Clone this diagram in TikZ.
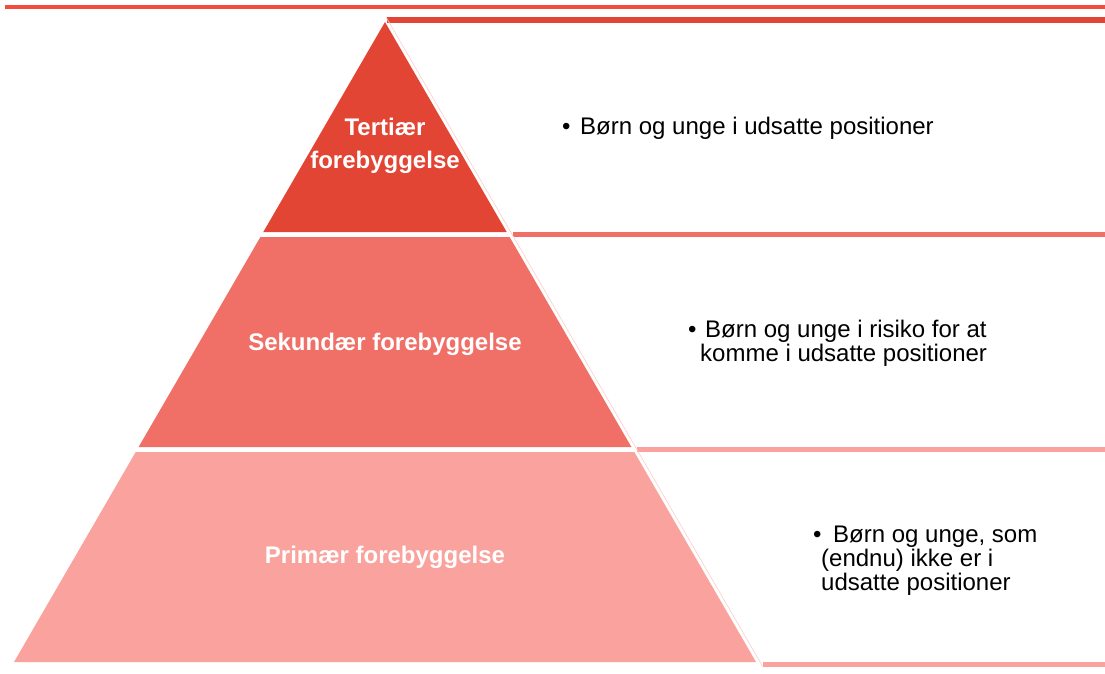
\documentclass[tikz,border=0pt]{standalone}
\usepackage{fontspec}
\setmainfont{Liberation Sans}
\definecolor{topline}{RGB}{244,76,60}
\definecolor{tierone}{RGB}{227,69,53}
\definecolor{tiertwo}{RGB}{240,112,104}
\definecolor{tierthree}{RGB}{250,162,157}
\definecolor{edgeline}{RGB}{252,205,200}
\begin{document}
\begin{tikzpicture}[
        x=1pt, y=-1pt,
        tier/.style = {draw=none},
        bar/.style = {line cap=butt},
        tierlabel/.style = {text=white, font=\bfseries\fontsize{24}{33}\selectfont, align=center, inner sep=0pt},
        listtext/.style = {text=black, font=\fontsize{24}{24}\selectfont, align=left, inner sep=0pt, anchor=base west},
        bullet/.style = {text=black, font=\fontsize{24}{24}\selectfont, inner sep=0pt, anchor=base west}
    ]
        \useasboundingbox (0,0) rectangle (1105,674);
        % bars above each list box
        \draw[bar, topline, line width=4pt] (5,7) -- (1105,7);
        \draw[bar, tierone, line width=6pt] (387,20) -- (1105,20);
        \draw[bar, tiertwo, line width=5pt] (513,234.5) -- (1105,234.5);
        \draw[bar, tierthree, line width=5pt] (637,449.5) -- (1105,449.5);
        \draw[bar, tierthree, line width=5pt] (763,664.5) -- (1105,664.5);
        \draw[edgeline, line width=0.6pt] (386,17) -- (763,667);
        % pyramid
        \fill[tier, tierone] (385,22) -- (506.7,232) -- (263.3,232) -- cycle;
        \fill[tier, tiertwo] (260.4,237) -- (509.6,237) -- (631.4,447) -- (138.6,447) -- cycle;
        \fill[tier, tierthree] (135.7,452) -- (634.3,452) -- (756,662) -- (14,662) -- cycle;
        \node[tierlabel] (tertiaer) at (385,145.5) {Tertiær\\forebyggelse};
        \node[tierlabel, anchor=base] (sekundaer) at (385,350) {Sekundær forebyggelse};
        \node[tierlabel, anchor=base] (primaer) at (385,563) {Primær forebyggelse};
        % list texts (base anchor sits on the last line)
        \node[bullet] (bulone) at (562,135) {•};
        \node[listtext] (listone) at (580,135) {Børn og unge i udsatte positioner};
        \node[bullet] (bultwo) at (688,337) {•};
        \node[listtext] (listtwo) at (700,361) {\hspace*{5pt}Børn og unge i risiko for at\\komme i udsatte positioner};
        \node[bullet] (bulthree) at (813,542) {•};
        \node[listtext] (listthree) at (821,590) {\hspace*{12pt}Børn og unge, som\\(endnu) ikke er i\\udsatte positioner};
    \end{tikzpicture}
\end{document}
